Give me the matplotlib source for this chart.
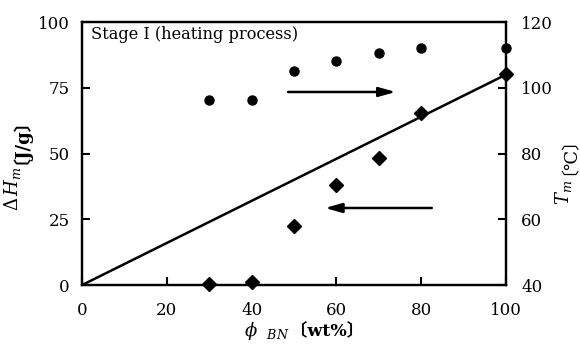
import numpy as np
from matplotlib import pyplot as plt

plt.rcParams['font.family'] = ['DejaVu Serif', 'Noto Sans CJK JP']
plt.rcParams['mathtext.fontset'] = 'dejavuserif'

# BN content (wt%)
phi_bn = [30, 40, 50, 60, 70, 80, 100]
# heat of fusion, left axis (J/g)
dh_m = [0.3, 1.0, 22.4, 38.0, 48.3, 65.4, 80.2]
# melting temperature, right axis (deg C)
t_m = [96.2, 96.2, 105.1, 108.1, 110.6, 112.1, 112.1]
# straight reference line
line_x = [0, 100]
line_y = [0, 80]
# arrows (left-axis data units): tail, head
arrow_right = [(48.6, 73.4), (74.0, 73.4)]
arrow_left = [(82.5, 29.3), (57.3, 29.3)]

xticks = np.arange(0, 101, 20)
yticks_left = np.arange(0, 101, 25)
yticks_right = np.arange(40, 121, 20)

fig = plt.figure(figsize=(5.8, 3.55), dpi=100)
ax = fig.add_axes([0.1414, 0.197, 0.731, 0.741])
ax2 = ax.twinx()

ax.plot(line_x, line_y, color="black", lw=1.8)
ax.plot(phi_bn, dh_m, "D", color="black", ms=6.8, clip_on=False, zorder=5)
ax2.plot(phi_bn, t_m, "o", color="black", ms=6.5, clip_on=False, zorder=5)

for tail, head in [arrow_right, arrow_left]:
    ax.annotate("", xy=head, xytext=tail,
                arrowprops=dict(arrowstyle="-|>,head_length=1.0,head_width=0.28",
                                color="black", lw=1.8, shrinkA=0, shrinkB=0))

ax.set_xlim(0, 100)
ax.set_ylim(0, 100)
ax2.set_ylim(40, 120)
ax.set_xticks(xticks)
ax.set_yticks(yticks_left)
ax2.set_yticks(yticks_right)

for a in (ax, ax2):
    for s in a.spines.values():
        s.set_linewidth(1.6)
ax.tick_params(axis="both", direction="in", length=6, width=1.5, labelsize=12)
ax.tick_params(axis="y", pad=9)
ax.tick_params(axis="x", pad=12)
ax2.tick_params(axis="y", direction="in", length=6, width=1.5, labelsize=12, pad=11)

ax.text(0.022, 0.985, "Stage I (heating process)", transform=ax.transAxes,
        fontsize=11.7, va="top", ha="left")

# axis labels built from pieces so the CJK brackets can fall back
ax.text(-0.165, 0.45, r"$\Delta\,H_m$", transform=ax.transAxes, rotation=90,
        fontsize=13, ha="center", va="top")
ax.text(-0.165, 0.46, "〔J/g〕", transform=ax.transAxes, rotation=90,
        fontsize=13, ha="center", va="bottom", fontweight="bold")
ax.text(1.135, 0.40, r"$T_m$", transform=ax.transAxes, rotation=90,
        fontsize=13, ha="center", va="top")
ax.text(1.128, 0.42, "〔℃〕", transform=ax.transAxes, rotation=90,
        fontsize=13, ha="center", va="bottom")
ax.text(0.49, -0.175, r"$\phi\;\ _{BN}$", transform=ax.transAxes,
        fontsize=13, ha="right", va="center")
ax.text(0.49, -0.175, "〔wt%〕", transform=ax.transAxes,
        fontsize=12.5, ha="left", va="center", fontweight="bold")

fig.savefig("out.png", dpi=100)
